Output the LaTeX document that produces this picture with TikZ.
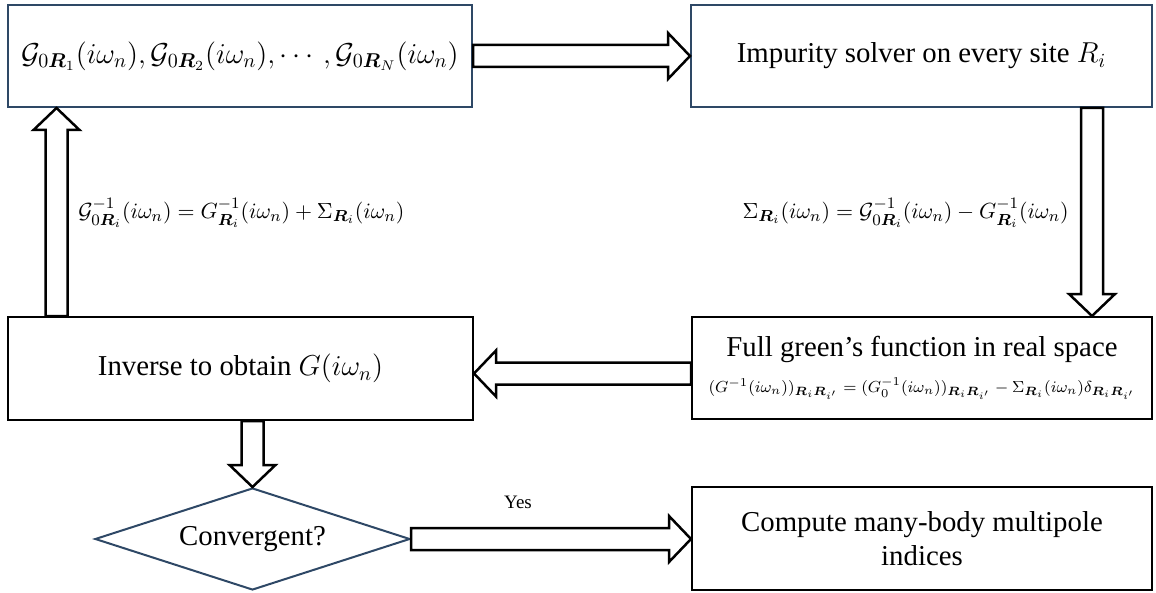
\documentclass[tikz,border=0pt]{standalone}
\usepackage{amsmath}
\usepackage{bm}
\usepackage{fontspec}
\setmainfont{Liberation Serif}
\usetikzlibrary{shapes.geometric,calc}
\definecolor{boxblue}{RGB}{46,72,102}
\tikzset{
  box/.style={draw=black, line width=1pt, inner sep=0pt, align=center,
    font=\fontsize{14.4}{17}\selectfont},
  bluebox/.style={box, draw=boxblue},
  blk/.style={draw=black, fill=white, line width=1.25pt, line join=miter},
  lbl/.style={inner sep=0pt, font=\fontsize{10.95}{13}\selectfont}
}
% horizontal block arrow: #1 start, #2 tip, #3 signed head length
\newcommand\harr[3]{\draw[blk] let \p1=#1, \p2=#2 in
  (\x1,\y1+5.5pt) -- (\x2-#3,\y1+5.5pt) -- (\x2-#3,\y1+11.5pt) -- (\x2,\y1)
  -- (\x2-#3,\y1-11.5pt) -- (\x2-#3,\y1-5.5pt) -- (\x1,\y1-5.5pt) -- cycle;}
% vertical block arrow
\newcommand\varr[3]{\draw[blk] let \p1=#1, \p2=#2 in
  (\x1+5.5pt,\y1) -- (\x1+5.5pt,\y2-#3) -- (\x1+11.5pt,\y2-#3) -- (\x1,\y2)
  -- (\x1-11.5pt,\y2-#3) -- (\x1-5.5pt,\y2-#3) -- (\x1-5.5pt,\y1) -- cycle;}
\begin{document}
\begin{tikzpicture}[x=0.5pt,y=-0.5pt]
\useasboundingbox (0,0) rectangle (1156,593);

\node[bluebox, minimum width=232pt, minimum height=51pt] (A) at (240,56)
  {$\mathcal{G}_{0\bm{R}_1}(i\omega_n), \mathcal{G}_{0\bm{R}_2}(i\omega_n), \cdots, \mathcal{G}_{0\bm{R}_N}(i\omega_n)$};
\node[bluebox, minimum width=230.5pt, minimum height=51pt] (B) at (921.5,56)
  {Impurity solver on every site $R_i$};
\node[box, minimum width=232.5pt, minimum height=51.5pt] (C) at (240.5,368.5)
  {Inverse to obtain $G(i\omega_n)$};
\node[box, minimum width=230pt, minimum height=51pt] (D) at (922,368)
  {Full green's function in real space\\[1pt]
   {\fontsize{8}{10}\selectfont$(G^{-1}(i\omega_n))_{\bm{R}_i\bm{R}_{i'}} = (G_0^{-1}(i\omega_n))_{\bm{R}_i\bm{R}_{i'}} - \Sigma_{\bm{R}_i}(i\omega_n)\delta_{\bm{R}_i\bm{R}_{i'}}$}};
\node[draw=boxblue, line width=1pt, shape=diamond, aspect=3, inner sep=0pt,
  minimum width=157.5pt, minimum height=51pt,
  font=\fontsize{14.4}{17}\selectfont] (E) at (252.5,539) {Convergent?};
\node[box, minimum width=230pt, minimum height=51.5pt] (F) at (922,538.5)
  {Compute many-body multipole\\indices};

\node[lbl, anchor=west] (L1) at (78,213)
  {$\mathcal{G}^{-1}_{0\bm{R}_i}(i\omega_n) = G^{-1}_{\bm{R}_i}(i\omega_n) + \Sigma_{\bm{R}_i}(i\omega_n)$};
\node[lbl, anchor=east] (L2) at (1069,213)
  {$\Sigma_{\bm{R}_i}(i\omega_n) = \mathcal{G}^{-1}_{0\bm{R}_i}(i\omega_n) - G^{-1}_{\bm{R}_i}(i\omega_n)$};
\node[lbl, font=\fontsize{9.5}{11}\selectfont] (Y) at (518,502) {Yes};

\harr{(A.east)}{(B.west)}{11pt}
\varr{([xshift=-30.5pt]B.south east)}{([xshift=-30.5pt]D.north east)}{-11pt}
\harr{([yshift=-2.75pt]D.west)}{([yshift=-2.75pt]C.east)}{-11pt}
\varr{([xshift=24.75pt]C.north west)}{([xshift=24.75pt]A.south west)}{11pt}
\varr{(C.south -| E.north)}{(E.north)}{-11pt}
\harr{(E.east)}{(F.west)}{11pt}
\end{tikzpicture}
\end{document}
